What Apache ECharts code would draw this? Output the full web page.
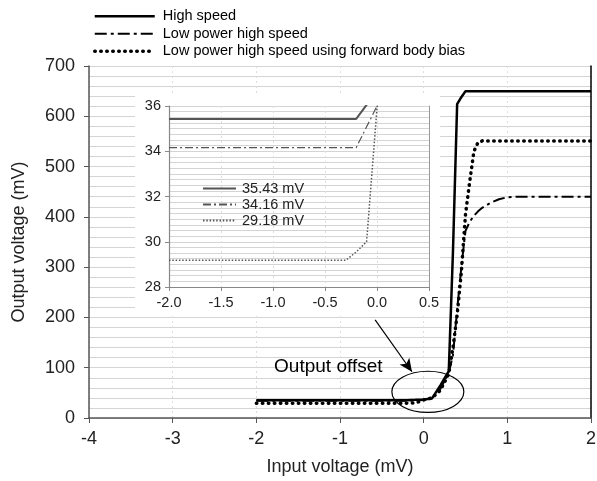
<!DOCTYPE html>
<html>
<head>
<meta charset="utf-8">
<script src="https://cdn.jsdelivr.net/npm/echarts@6/dist/echarts.min.js"></script>
<style>
  html, body { margin: 0; padding: 0; background: #fff; }
  #chart { width: 597px; height: 481px; }
</style>
</head>
<body>
<div id="chart"></div>
<script>
// input sweep (mV) shared by all three curves
var xIn = [-2, -1, -0.5, -0.3, -0.2, -0.1, 0, 0.1, 0.2, 0.3, 0.35, 0.4, 0.45, 0.5, 0.55, 0.6, 0.65, 0.7, 0.8, 0.9, 1.0, 1.1, 1.5, 2];
// output voltage (mV)
var yHigh = [35.43, 35.43, 35.43, 35.43, 35.43, 36.05, 37, 39, 65, 93, 330, 624, 638, 650, 650, 650, 650, 650, 650, 650, 650, 650, 650, 650];
var yLow = [34.16, 34.16, 34.16, 34.16, 34.16, 35.08, 36, 40, 58, 90, 125, 215, 300, 372, 390, 402, 411, 418, 428, 435, 439, 440, 440, 440];
var yFbb = [29.18, 29.18, 29.18, 29.18, 29.55, 30.0, 35.9, 40, 55, 88, 140, 205, 290, 405, 470, 530, 548, 551, 551, 551, 551, 551, 551, 551];

var mainNames = ['High speed', 'Low power high speed', 'Low power high speed using forward body bias'];
var insetNames = ['35.43 mV', '34.16 mV', '29.18 mV'];

// annotation (data coords of main chart)
var noteText = 'Output offset';
var noteAt = [-1.14, 101];
var arrowFrom = [-0.58, 195];
var arrowTo = [-0.14, 92];
var ringAt = [0.05, 52];
var ringHalf = [0.43, 41];

var FONT = 'Liberation Sans, Arial, sans-serif';

function pairs(ys) {
  return xIn.map(function (x, i) { return [x, ys[i]]; });
}

var mainStyles = [
  { color: '#000', width: 2.5, type: 'solid' },
  { color: '#000', width: 2, type: [12, 4, 3, 4] },
  { color: '#000', width: 3.5, type: [0.5, 5.5], cap: 'round' }
];
var insetStyles = [
  { color: '#555', width: 2, type: 'solid' },
  { color: '#555', width: 1.2, type: [8, 3, 2, 3] },
  { color: '#555', width: 1.5, type: [1.5, 1.8] }
];
var ys = [yHigh, yLow, yFbb];

var series = [];
ys.forEach(function (y, i) {
  series.push({
    name: mainNames[i],
    type: 'line',
    xAxisIndex: 0,
    yAxisIndex: 0,
    symbol: 'none',
    z: 3,
    itemStyle: { color: mainStyles[i].color },
    lineStyle: mainStyles[i],
    data: pairs(y)
  });
});
ys.forEach(function (y, i) {
  series.push({
    name: insetNames[i],
    type: 'line',
    xAxisIndex: 1,
    yAxisIndex: 2,
    symbol: 'none',
    clip: true,
    z: 8,
    itemStyle: { color: insetStyles[i].color },
    lineStyle: insetStyles[i],
    data: pairs(y)
  });
});

// arrow pointing at the offset region
series[0].markLine = {
  silent: true,
  symbol: ['none', 'arrow'],
  symbolSize: [9, 13],
  label: { show: false },
  lineStyle: { color: '#000', width: 1.2, type: 'solid' },
  data: [[{ coord: arrowFrom }, { coord: arrowTo }]]
};

var chart = echarts.init(document.getElementById('chart'));

var option = {
  animation: false,
  backgroundColor: '#fff',
  textStyle: { fontFamily: FONT },
  legend: [
    {
      data: mainNames.map(function (n, i) { return { name: n, lineStyle: mainStyles[i] }; }),
      orient: 'vertical',
      left: 88,
      top: 3,
      itemWidth: 60,
      itemHeight: 14,
      itemGap: 1,
      selectedMode: false,
      itemStyle: { opacity: 0 },
      textStyle: { fontSize: 14.5, lineHeight: 16.5, color: '#000', fontFamily: FONT, padding: [0, 0, 0, 3] }
    },
    {
      data: insetNames,
      orient: 'vertical',
      left: 197,
      top: 176,
      itemWidth: 33,
      itemHeight: 14,
      itemGap: 1,
      z: 9,
      selectedMode: false,
      itemStyle: { opacity: 0 },
      textStyle: { fontSize: 14.5, lineHeight: 14.5, color: '#222', fontFamily: FONT, padding: [0, 0, 0, 1] }
    }
  ],
  grid: [
    { left: 89, right: 6, top: 66, bottom: 63, outerBoundsMode: 'none' },
    { left: 169, top: 106, width: 260, height: 181, outerBoundsMode: 'none', z: 6 }
  ],
  xAxis: [
    {
      type: 'value', gridIndex: 0, min: -4, max: 2, interval: 1,
      name: 'Input voltage (mV)', nameLocation: 'middle', nameGap: 40,
      nameTextStyle: { fontSize: 18, color: '#222', fontFamily: FONT },
      axisLine: { show: true, onZero: false, lineStyle: { color: '#555', width: 1.5 } },
      axisTick: { show: true, length: 5, lineStyle: { color: '#555' } },
      axisLabel: { fontSize: 18, color: '#222', margin: 12, fontFamily: FONT },
      splitLine: { show: true, lineStyle: { color: '#ddd', type: [2, 3], width: 1 } }
    },
    {
      type: 'value', gridIndex: 1, min: -2, max: 0.5, interval: 0.5, z: 7,
      axisLine: { show: true, onZero: false, lineStyle: { color: '#888', width: 1.2 } },
      axisTick: { show: true, length: 4, lineStyle: { color: '#888' } },
      axisLabel: {
        fontSize: 14.5, color: '#222', margin: 8, fontFamily: FONT,
        formatter: function (v) { return v.toFixed(1); }
      },
      splitLine: { show: true, lineStyle: { color: '#ddd', type: [2, 3], width: 1 } }
    }
  ],
  yAxis: [
    {
      type: 'value', gridIndex: 0, min: 0, max: 700, interval: 100,
      name: 'Output voltage (mV)', nameLocation: 'middle', nameGap: 61,
      nameTextStyle: { fontSize: 18, color: '#222', fontFamily: FONT },
      axisLine: { show: true, onZero: false, lineStyle: { color: '#555', width: 1.5 } },
      axisTick: { show: true, length: 5, lineStyle: { color: '#555' } },
      axisLabel: { fontSize: 18, color: '#222', margin: 14, fontFamily: FONT },
      splitLine: { show: true, lineStyle: { color: '#d4d4d4', width: 1 } },
      minorTick: { show: false, splitNumber: 5 },
      minorSplitLine: { show: true, lineStyle: { color: '#d4d4d4', width: 1 } }
    },
    {
      type: 'value', gridIndex: 0, position: 'right', min: 0, max: 700,
      axisLine: { show: true, onZero: false, lineStyle: { color: '#000', width: 1.5 } },
      axisTick: { show: false }, axisLabel: { show: false }, splitLine: { show: false }
    },
    {
      type: 'value', gridIndex: 1, min: 28, max: 36, interval: 2, z: 7,
      axisLine: { show: true, onZero: false, lineStyle: { color: '#888', width: 1.2 } },
      axisTick: { show: true, length: 4, lineStyle: { color: '#888' } },
      axisLabel: { fontSize: 14.5, color: '#222', margin: 8, fontFamily: FONT },
      splitLine: { show: true, lineStyle: { color: '#d4d4d4', width: 1 } },
      minorTick: { show: false, splitNumber: 8 },
      minorSplitLine: { show: true, lineStyle: { color: '#d4d4d4', width: 1 } }
    },
    {
      type: 'value', gridIndex: 1, position: 'right', min: 28, max: 36, z: 7,
      axisLine: { show: true, onZero: false, lineStyle: { color: '#999', width: 1 } },
      axisTick: { show: false }, axisLabel: { show: false }, splitLine: { show: false }
    }
  ],
  graphic: {
    elements: [
      {
        id: 'box', type: 'rect', z: 5, silent: true,
        shape: { x: 135, y: 95, width: 305, height: 218 },
        style: { fill: '#fff' }
      }
    ]
  },
  series: series
};

chart.setOption(option);

// ellipse and label placed from data coordinates
var c = chart.convertToPixel({ xAxisIndex: 0, yAxisIndex: 0 }, ringAt);
var e = chart.convertToPixel({ xAxisIndex: 0, yAxisIndex: 0 }, [ringAt[0] + ringHalf[0], ringAt[1] + ringHalf[1]]);
var t = chart.convertToPixel({ xAxisIndex: 0, yAxisIndex: 0 }, noteAt);

chart.setOption({
  graphic: {
    elements: [
      {
        id: 'ring', type: 'ellipse', z: 10, silent: true,
        shape: { cx: c[0], cy: c[1], rx: e[0] - c[0], ry: c[1] - e[1] },
        style: { fill: 'none', stroke: '#000', lineWidth: 1.2 }
      },
      {
        id: 'note', type: 'text', z: 10, silent: true,
        x: t[0], y: t[1],
        style: {
          text: noteText, fill: '#000', font: '19px ' + FONT,
          textAlign: 'center', textVerticalAlign: 'middle'
        }
      }
    ]
  }
});
</script>
</body>
</html>
